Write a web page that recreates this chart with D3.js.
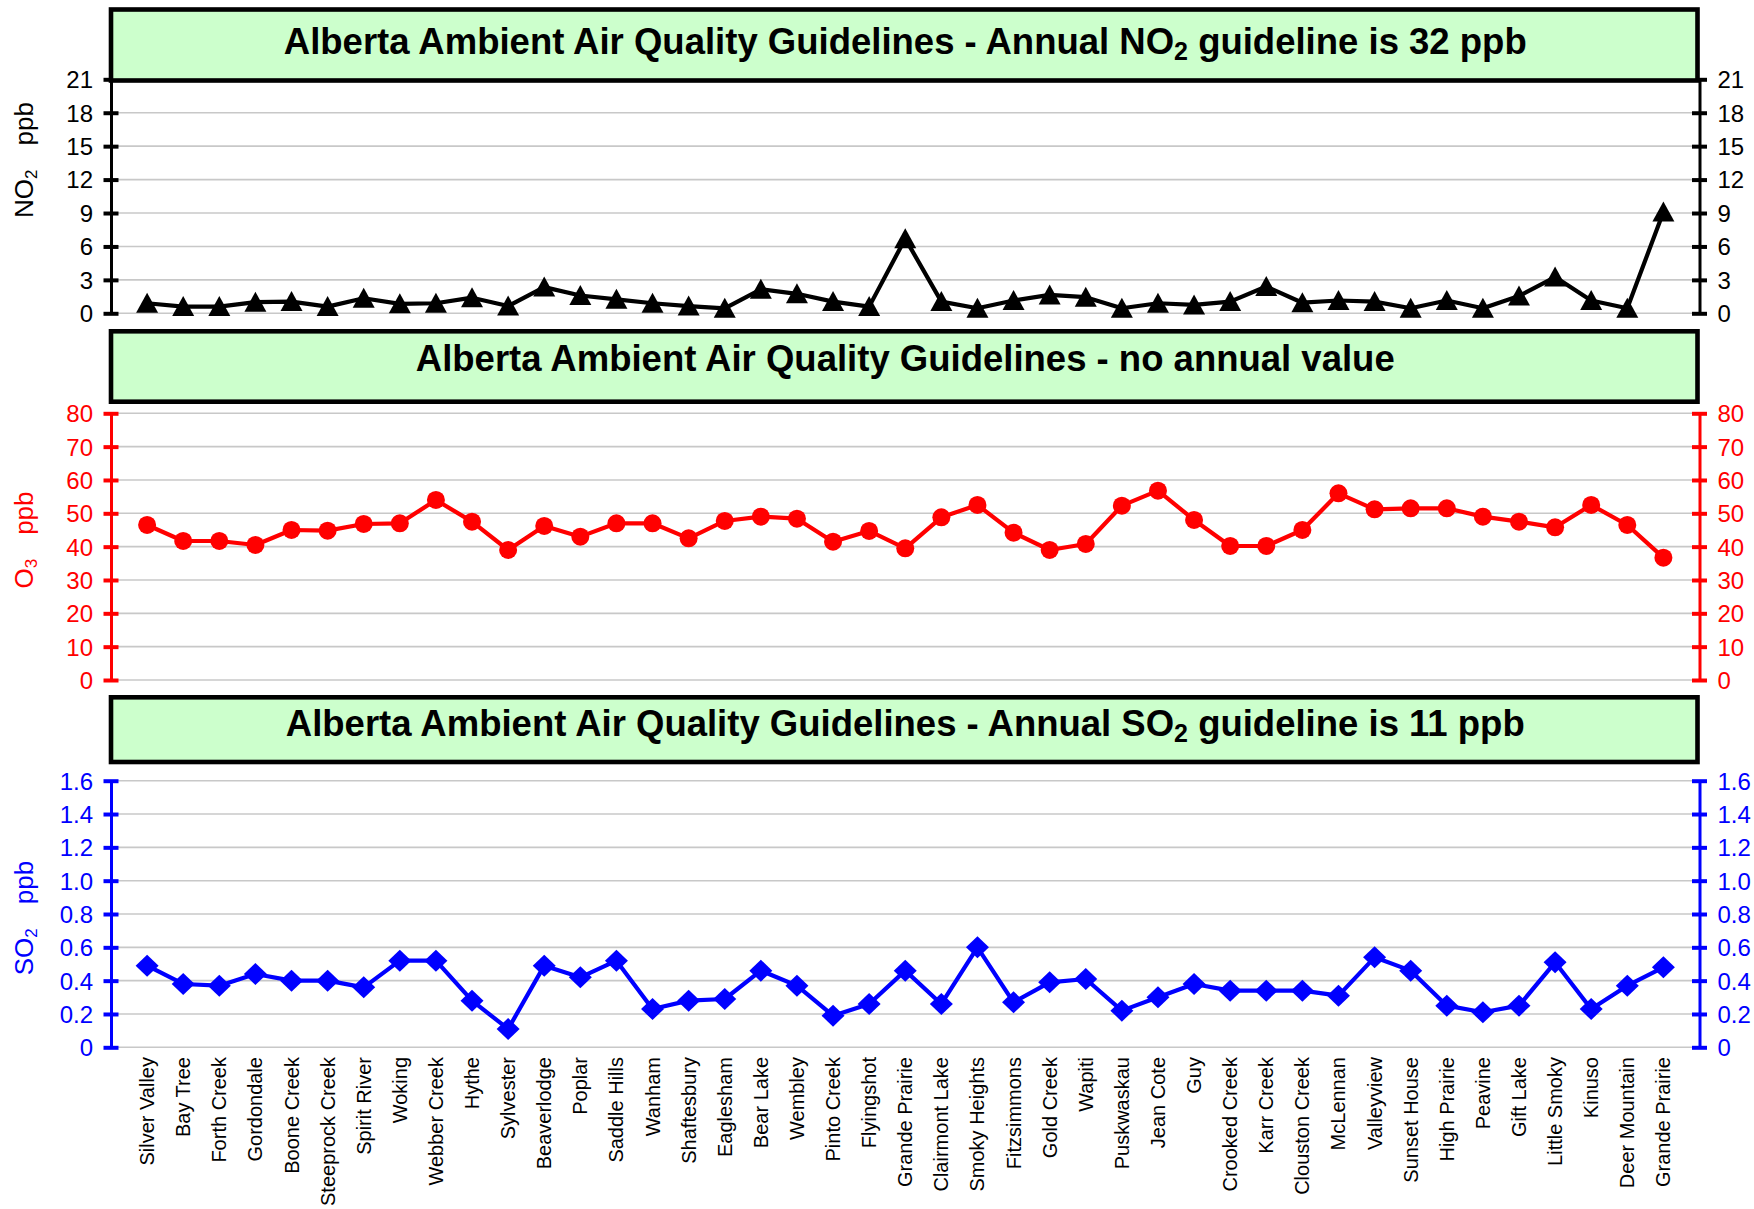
<!DOCTYPE html>
<html>
<head>
<meta charset="utf-8">
<script src="https://cdn.jsdelivr.net/npm/d3@7"></script>
<style>
  html, body { margin: 0; padding: 0; background: #ffffff; }
  svg { display: block; font-family: "Liberation Sans", Arial, Helvetica, sans-serif; }
</style>
</head>
<body>
<svg id="chart" width="1754" height="1209"></svg>
<script>
// ---------------- data ----------------
const categories = [
  "Silver Valley", "Bay Tree", "Forth Creek", "Gordondale", "Boone Creek", "Steeprock Creek",
  "Spirit River", "Woking", "Webber Creek", "Hythe", "Sylvester", "Beaverlodge", "Poplar",
  "Saddle Hills", "Wanham", "Shaftesbury", "Eaglesham", "Bear Lake", "Wembley", "Pinto Creek",
  "Flyingshot", "Grande Prairie", "Clairmont Lake", "Smoky Heights", "Fitzsimmons", "Gold Creek",
  "Wapiti", "Puskwaskau", "Jean Cote", "Guy", "Crooked Creek", "Karr Creek", "Clouston Creek",
  "McLennan", "Valleyview", "Sunset House", "High Prairie", "Peavine", "Gift Lake",
  "Little Smoky", "Kinuso", "Deer Mountain", "Grande Prairie"
];

const no2Values = [
  0.9, 0.6, 0.6, 1.0, 1.05, 0.6, 1.35, 0.85, 0.9, 1.4, 0.65, 2.35, 1.6,
  1.25, 0.9, 0.65, 0.45, 2.15, 1.75, 1.05, 0.6, 6.7, 1.05, 0.45, 1.15, 1.65,
  1.45, 0.45, 0.9, 0.75, 1.05, 2.4, 0.95, 1.15, 1.05, 0.45, 1.15, 0.45, 1.55,
  3.25, 1.15, 0.45, 9.1
];

const o3Values = [
  46.5, 41.7, 41.7, 40.5, 45.0, 44.8, 46.8, 47.0, 54.0, 47.5, 39.0, 46.2, 43.0,
  47.0, 47.0, 42.5, 47.7, 49.0, 48.4, 41.5, 44.7, 39.5, 48.8, 52.5, 44.2, 39.0,
  40.8, 52.3, 56.8, 48.0, 40.2, 40.2, 45.0, 56.0, 51.2, 51.5, 51.5, 49.0, 47.5,
  45.8, 52.5, 46.5, 36.7
];

const so2Values = [
  0.49, 0.38, 0.37, 0.44, 0.40, 0.40, 0.36, 0.52, 0.52, 0.28, 0.11, 0.49, 0.42,
  0.52, 0.23, 0.28, 0.29, 0.46, 0.37, 0.19, 0.26, 0.46, 0.26, 0.60, 0.27, 0.39,
  0.41, 0.22, 0.30, 0.38, 0.34, 0.34, 0.34, 0.31, 0.54, 0.46, 0.25, 0.21, 0.25,
  0.51, 0.23, 0.37, 0.48
];

const no2Ticks = [0, 3, 6, 9, 12, 15, 18, 21];
const no2TickLabels = ["0", "3", "6", "9", "12", "15", "18", "21"];
const o3Ticks = [0, 10, 20, 30, 40, 50, 60, 70, 80];
const o3TickLabels = ["0", "10", "20", "30", "40", "50", "60", "70", "80"];
const so2Ticks = [0, 0.2, 0.4, 0.6, 0.8, 1.0, 1.2, 1.4, 1.6];
const so2TickLabels = ["0", "0.2", "0.4", "0.6", "0.8", "1.0", "1.2", "1.4", "1.6"];

const titleNO2 = ["Alberta Ambient Air Quality Guidelines - Annual NO", "2", " guideline is 32 ppb"];
const titleO3 = ["Alberta Ambient Air Quality Guidelines - no annual value", "", ""];
const titleSO2 = ["Alberta Ambient Air Quality Guidelines - Annual SO", "2", " guideline is 11 ppb"];

// ---------------- layout ----------------
const svg = d3.select("#chart");
const plotLeft = 111, plotRight = 1699.5;

const x = d3.scalePoint()
  .domain(d3.range(categories.length))
  .range([plotLeft, plotRight])
  .padding(1);

const panels = [
  { values: no2Values, ticks: no2Ticks, tickLabels: no2TickLabels, color: "#000000",
    top: 79.3, bottom: 313.3, boxTop: 9.5, boxBottom: 80.5, titleY: 54,
    title: titleNO2, species: "NO", sub: "2", axisTitleY: 160, marker: "triangle" },
  { values: o3Values, ticks: o3Ticks, tickLabels: o3TickLabels, color: "#FF0000",
    top: 413.3, bottom: 680, boxTop: 331.3, boxBottom: 401.7, titleY: 370.5,
    title: titleO3, species: "O", sub: "3", axisTitleY: 540, marker: "circle" },
  { values: so2Values, ticks: so2Ticks, tickLabels: so2TickLabels, color: "#0000FF",
    top: 780.7, bottom: 1047.3, boxTop: 697.3, boxBottom: 762, titleY: 735.5,
    title: titleSO2, species: "SO", sub: "2", axisTitleY: 918, marker: "diamond" }
];

const markerPaths = {
  triangle: "M0,-10.5L11,9.5L-11,9.5Z",
  diamond: "M0,-11L11.5,0L0,11L-11.5,0Z"
};

panels.forEach(p => {
  const y = d3.scaleLinear()
    .domain([p.ticks[0], p.ticks[p.ticks.length - 1]])
    .range([p.bottom, p.top]);
  const g = svg.append("g");

  // gridlines
  g.append("g").selectAll("line").data(p.ticks).join("line")
    .attr("x1", plotLeft).attr("x2", plotRight)
    .attr("y1", d => y(d)).attr("y2", d => y(d))
    .attr("stroke", "#C8C8C8").attr("stroke-width", 1.6);

  // axes (left & right)
  const fmt = (d, i) => p.tickLabels[i];
  const left = g.append("g").attr("transform", `translate(${plotLeft},0)`)
    .call(d3.axisLeft(y).tickValues(p.ticks).tickFormat(fmt)
      .tickSizeInner(7.5).tickSizeOuter(0).tickPadding(10.5));
  left.selectAll(".tick line").attr("x1", 7.5);
  const right = g.append("g").attr("transform", `translate(${plotRight},0)`)
    .call(d3.axisRight(y).tickValues(p.ticks).tickFormat(fmt)
      .tickSizeInner(7.5).tickSizeOuter(0).tickPadding(10.5));
  right.selectAll(".tick line").attr("x1", -7.5);
  [left, right].forEach(a => {
    a.attr("font-size", 24).attr("font-family", null);
    a.select(".domain").attr("stroke", p.color).attr("stroke-width", 3);
    a.selectAll(".tick line").attr("stroke", p.color).attr("stroke-width", 4);
    a.selectAll(".tick text").attr("fill", p.color).attr("dy", "0.35em");
  });

  // title box
  g.append("rect")
    .attr("x", plotLeft).attr("y", p.boxTop)
    .attr("width", plotRight - 2 - plotLeft).attr("height", p.boxBottom - p.boxTop)
    .attr("fill", "#CCFFCC").attr("stroke", "#000").attr("stroke-width", 4.6);
  const t = g.append("text")
    .attr("x", (plotLeft + plotRight) / 2).attr("y", p.titleY)
    .attr("text-anchor", "middle").attr("font-weight", "bold")
    .attr("font-size", 36.5).attr("fill", "#000");
  t.append("tspan").text(p.title[0]);
  if (p.title[1]) {
    t.append("tspan").attr("font-size", 25).attr("dy", 6).text(p.title[1]);
    t.append("tspan").attr("dy", -6).text(p.title[2]);
  }

  // axis title
  const at = g.append("text")
    .attr("transform", `translate(33,${p.axisTitleY}) rotate(-90)`)
    .attr("text-anchor", "middle").attr("font-size", 26).attr("fill", p.color);
  at.append("tspan").text(p.species);
  at.append("tspan").attr("font-size", 17).attr("dy", 4).text(p.sub);
  at.append("tspan").attr("dy", -4).attr("dx", 24).text("ppb");

  // series line
  const line = d3.line().x((d, i) => x(i)).y(d => y(d));
  g.append("path").datum(p.values)
    .attr("d", line).attr("fill", "none")
    .attr("stroke", p.color).attr("stroke-width", 4.2).attr("stroke-linejoin", "round");

  // markers
  const m = g.append("g").selectAll(".mk").data(p.values).join(p.marker === "circle" ? "circle" : "path");
  if (p.marker === "circle") {
    m.attr("cx", (d, i) => x(i)).attr("cy", d => y(d)).attr("r", 9).attr("fill", p.color);
  } else {
    m.attr("d", markerPaths[p.marker])
      .attr("transform", (d, i) => `translate(${x(i)},${y(d)})`)
      .attr("fill", p.color);
  }
});

// category labels
svg.append("g").selectAll("text").data(categories).join("text")
  .attr("transform", (d, i) => `translate(${x(i)},1057) rotate(-90)`)
  .attr("text-anchor", "end").attr("dy", "0.35em")
  .attr("font-size", 20).attr("fill", "#000")
  .text(d => d);
</script>
</body>
</html>
